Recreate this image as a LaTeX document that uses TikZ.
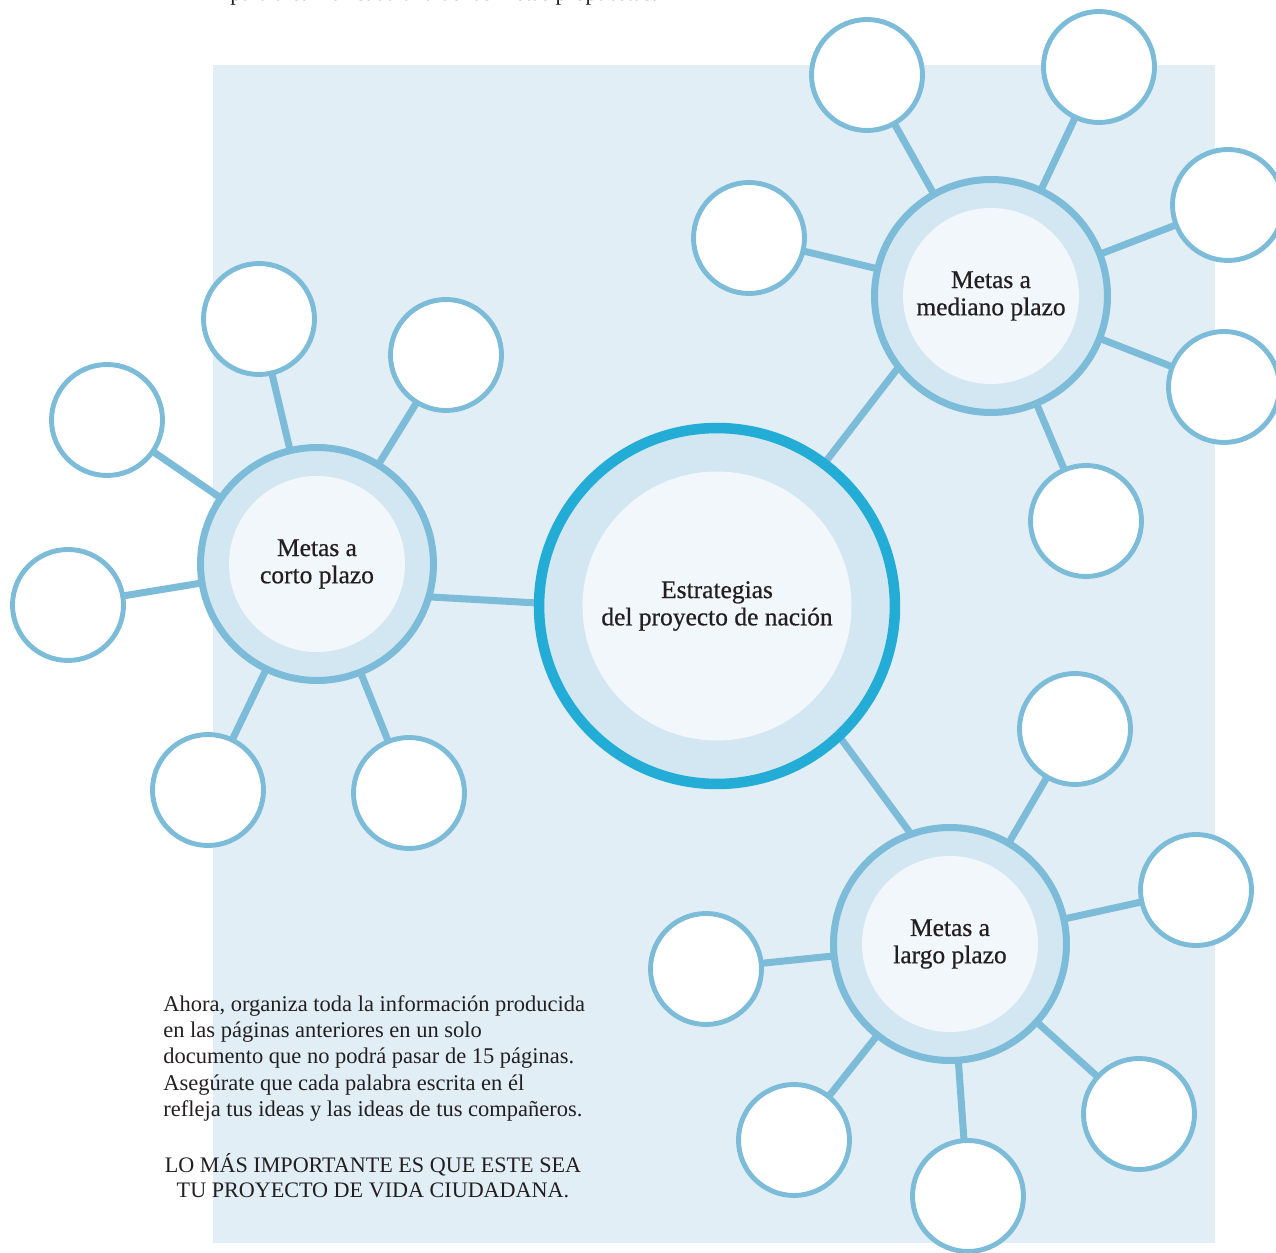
\documentclass[tikz,border=0pt]{standalone}
\usepackage{fontspec}
\setmainfont{Liberation Serif}
\newfontfamily\hubfont[FakeBold=0.6]{Liberation Serif}
\definecolor{bgc}{HTML}{E1EEF6}
\definecolor{linec}{HTML}{7DBCD9}
\definecolor{corec}{HTML}{23ADD6}
\definecolor{ringc}{HTML}{D3E7F2}
\definecolor{innerc}{HTML}{F2F7FB}
\definecolor{txtc}{HTML}{231F20}
\pgfdeclarelayer{back}
\pgfdeclarelayer{lines}
\pgfsetlayers{back,lines,main}
\begin{document}
\begin{tikzpicture}[x=0.02cm,y=-0.02cm,
  leaf/.style={circle, draw=linec, fill=white, line width=2.8pt, minimum size=2.22cm, inner sep=0pt},
  hub/.style={circle, draw=linec, fill=ringc, line width=4pt, minimum size=4.66cm, inner sep=0pt,
    align=center, text=txtc, font=\hubfont\fontsize{14.5}{15.5}\selectfont,
    path picture={\fill[innerc] (path picture bounding box.center) circle (1.76cm);}},
  core/.style={circle, draw=corec, fill=ringc, line width=6pt, minimum size=7.12cm, inner sep=0pt,
    align=center, text=txtc, font=\hubfont\fontsize{14.5}{15.5}\selectfont,
    path picture={\fill[innerc] (path picture bounding box.center) circle (2.69cm);}},
  conn/.style={draw=linec, line width=4pt},
  para/.style={text=txtc, inner sep=0pt, font=\fontsize{12.8}{15}\selectfont}
]
\path[use as bounding box] (0,0) rectangle (1276,1253);
\begin{pgfonlayer}{back}
  \fill[bgc] (213,65) rectangle (1215,1243);
\end{pgfonlayer}

% top clipped line
\node[para, anchor=base west] (toptext) at (230,1) {para alcanzar cada una de las metas propuestas.};

% central
\node[core] (core) at (717,606) {Estrategias\\del proyecto de nación};

% hubs
\node[hub] (corto) at (317,564) {Metas a\\corto plazo};
\node[hub] (mediano) at (991,296) {Metas a\\mediano plazo};
\node[hub] (largo) at (950,944) {Metas a\\largo plazo};

% short-term leaves
\node[leaf] (c1) at (259,319) {};
\node[leaf] (c2) at (446,355) {};
\node[leaf] (c3) at (107,420) {};
\node[leaf] (c4) at (68,605) {};
\node[leaf] (c5) at (208,790) {};
\node[leaf] (c6) at (409,793) {};

% medium-term leaves
\node[leaf] (m1) at (867,75) {};
\node[leaf] (m2) at (1099,67) {};
\node[leaf] (m3) at (749,238) {};
\node[leaf] (m4) at (1228,205) {};
\node[leaf] (m5) at (1224,387) {};
\node[leaf] (m6) at (1086,521) {};

% long-term leaves
\node[leaf] (l1) at (1075,729) {};
\node[leaf] (l2) at (1196,890) {};
\node[leaf] (l3) at (706,969) {};
\node[leaf] (l4) at (1139,1114) {};
\node[leaf] (l5) at (794,1140) {};
\node[leaf] (l6) at (968,1196) {};

\begin{pgfonlayer}{lines}
  \foreach \s in {c1,c2,c3,c4,c5,c6} \draw[conn] (corto.center) -- (\s.center);
  \foreach \s in {m1,m2,m3,m4,m5,m6} \draw[conn] (mediano.center) -- (\s.center);
  \foreach \s in {l1,l2,l3,l4,l5,l6} \draw[conn] (largo.center) -- (\s.center);
  \draw[conn, shorten <=-6pt, shorten >=-6pt] (corto.-16) -- (core.179);
  \draw[conn, shorten <=-6pt, shorten >=-6pt] (core.53) -- (mediano.218);
  \draw[conn, shorten <=-6pt, shorten >=-6pt] (core.-47) -- (largo.110);
\end{pgfonlayer}

% bottom text
\node[para, anchor=north west, align=left] (note) at (163,995)
  {Ahora, organiza toda la información producida\\
   en las páginas anteriores en un solo\\
   documento que no podrá pasar de 15 páginas.\\
   Asegúrate que cada palabra escrita en él\\
   refleja tus ideas y las ideas de tus compañeros.};
\node[para, anchor=base, align=center, font=\fontsize{12.6}{15}\selectfont] (motto) at (373,1172)
  {LO MÁS IMPORTANTE ES QUE ESTE SEA};
\node[para, anchor=base, align=center, font=\fontsize{12.6}{15}\selectfont] (motto2) at (373,1197)
  {TU PROYECTO DE VIDA CIUDADANA.};
\end{tikzpicture}
\end{document}
